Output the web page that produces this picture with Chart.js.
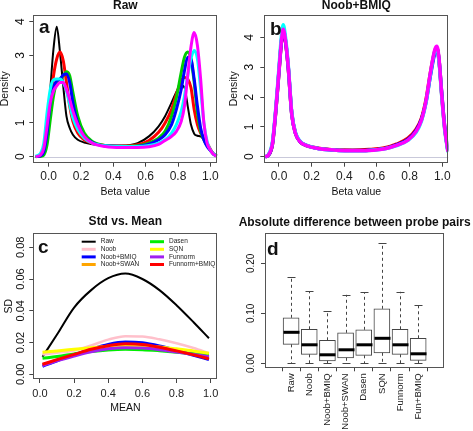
<!DOCTYPE html>
<html>
<head>
<meta charset="utf-8">
<script src="https://cdn.jsdelivr.net/npm/chart.js@4.4.1/dist/chart.umd.min.js"></script>
<style>
  html, body { margin: 0; padding: 0; background: #fff; }
  #wrap { position: relative; width: 473px; height: 431px; overflow: hidden; }
  canvas { position: absolute; }
</style>
</head>
<body>
<div id="wrap">
  <canvas id="graficoA" width="226" height="215" style="left:0;top:0"></canvas>
  <canvas id="graficoB" width="247" height="215" style="left:226px;top:0"></canvas>
  <canvas id="graficoC" width="226" height="216" style="left:0;top:215px"></canvas>
  <canvas id="graficoD" width="247" height="216" style="left:226px;top:215px"></canvas>
</div>
<script>
const FONTE = '"Liberation Sans", Arial, Helvetica, sans-serif';

// ---- painel a: Raw (densidades)
const BETA_A = [-0.08, -0.05, -0.03, -0.01, 0.01, 0.03, 0.05, 0.07, 0.09, 0.11, 0.13, 0.15, 0.18, 0.22, 0.27, 0.35, 0.45, 0.55, 0.62, 0.68, 0.72, 0.76, 0.79, 0.82, 0.84, 0.86, 0.88, 0.9, 0.92, 0.94, 0.96, 0.98, 1.0, 1.02, 1.04];
const RAW_BLACK = [0, 0.02, 0.15, 0.8, 2.0, 3.2, 3.85, 3.1, 2.1, 1.2, 0.85, 0.65, 0.5, 0.42, 0.37, 0.33, 0.33, 0.4, 0.6, 0.9, 1.2, 1.6, 1.92, 2.12, 2.05, 1.5, 0.95, 0.68, 0.62, 0.6, 0.5, 0.35, 0.2, 0.08, 0.02];
const RAW_RED = [0, 0.02, 0.12, 0.6, 1.6, 2.4, 2.9, 3.1, 2.85, 2.2, 1.5, 1.05, 0.7, 0.5, 0.4, 0.33, 0.31, 0.35, 0.48, 0.72, 1.0, 1.4, 1.85, 2.25, 2.35, 2.3, 2.05, 1.4, 0.95, 0.7, 0.55, 0.4, 0.22, 0.08, 0.02];
const RAW_GREEN = [0, 0.01, 0.05, 0.35, 1.1, 1.8, 2.2, 2.3, 2.4, 2.52, 2.4, 1.9, 1.2, 0.7, 0.45, 0.33, 0.3, 0.32, 0.4, 0.55, 0.75, 1.2, 1.75, 2.5, 2.95, 3.1, 2.9, 2.2, 1.3, 0.75, 0.5, 0.33, 0.2, 0.08, 0.02];
const RAW_BLUE = [0, 0.03, 0.15, 0.7, 1.6, 2.05, 2.25, 2.3, 2.42, 2.45, 2.2, 1.6, 1.0, 0.6, 0.42, 0.32, 0.3, 0.31, 0.37, 0.5, 0.65, 0.95, 1.4, 2.0, 2.55, 2.95, 2.9, 2.3, 1.5, 0.85, 0.5, 0.3, 0.18, 0.07, 0.02];
const RAW_CYAN = [0.01, 0.1, 0.4, 1.3, 2.0, 2.28, 2.3, 2.3, 2.2, 1.95, 1.55, 1.15, 0.8, 0.55, 0.4, 0.32, 0.3, 0.3, 0.33, 0.4, 0.5, 0.7, 0.95, 1.35, 1.8, 2.4, 2.9, 3.15, 2.9, 2.0, 1.0, 0.45, 0.2, 0.08, 0.02];
const RAW_MAGENTA = [0, 0.05, 0.25, 0.9, 1.6, 1.95, 2.1, 2.2, 2.2, 2.0, 1.7, 1.35, 0.95, 0.6, 0.4, 0.3, 0.27, 0.27, 0.29, 0.36, 0.48, 0.6, 0.75, 1.05, 1.5, 2.4, 3.25, 3.68, 3.3, 2.3, 1.0, 0.4, 0.2, 0.07, 0.02];

// ---- painel b: Noob+BMIQ
const BETA_B = [-0.085, -0.065, -0.04, -0.02, 0.0, 0.015, 0.026, 0.04, 0.057, 0.078, 0.1, 0.13, 0.17, 0.25, 0.35, 0.45, 0.55, 0.65, 0.72, 0.79, 0.84, 0.873, 0.9, 0.93, 0.955, 0.967, 0.98, 0.995, 1.015, 1.035];
const BMIQ_RED = [0, 0.05, 0.42, 1.5, 2.85, 3.85, 4.2, 3.85, 2.95, 1.45, 0.8, 0.5, 0.37, 0.28, 0.23, 0.22, 0.24, 0.3, 0.42, 0.62, 0.92, 1.3, 1.9, 2.9, 3.55, 3.65, 3.25, 2.2, 0.95, 0.18];
const BMIQ_BLUE = [0, 0.05, 0.44, 1.52, 2.88, 3.88, 4.25, 3.88, 2.98, 1.45, 0.8, 0.5, 0.37, 0.27, 0.22, 0.21, 0.22, 0.28, 0.4, 0.58, 0.88, 1.25, 1.82, 2.8, 3.5, 3.62, 3.25, 2.25, 1.0, 0.2];
const BMIQ_CYAN = [0, 0.07, 0.5, 1.6, 3.0, 4.05, 4.42, 4.0, 3.05, 1.5, 0.83, 0.52, 0.38, 0.27, 0.22, 0.2, 0.21, 0.27, 0.37, 0.55, 0.82, 1.2, 1.8, 2.85, 3.55, 3.6, 3.2, 2.15, 0.9, 0.15];
const BMIQ_MAGENTA = [0, 0.06, 0.45, 1.55, 2.9, 3.9, 4.27, 3.9, 3.0, 1.45, 0.8, 0.5, 0.37, 0.27, 0.22, 0.2, 0.21, 0.27, 0.38, 0.56, 0.85, 1.23, 1.85, 2.9, 3.6, 3.7, 3.3, 2.2, 0.95, 0.17];

const X_TICKS_AB = [0, 0.2, 0.4, 0.6, 0.8, 1.0];
const Y_TICKS_AB = [0, 1, 2, 3, 4];

// ---- painel c: Std vs. Mean
const MEAN_C = [0.015, 0.1, 0.2, 0.3, 0.4, 0.5, 0.6, 0.7, 0.8, 0.9, 0.99];
const SD_RAW = [0.011, 0.025, 0.042, 0.053, 0.0605, 0.0634, 0.060, 0.053, 0.0435, 0.0328, 0.0227];
const SD_NOOB = [0.0125, 0.0135, 0.015, 0.0182, 0.0218, 0.0240, 0.0238, 0.0220, 0.0195, 0.0165, 0.0132];
const SD_NOOB_BMIQ = [0.0050, 0.0085, 0.0122, 0.0158, 0.0188, 0.0203, 0.0198, 0.0178, 0.0150, 0.0120, 0.0092];
const SD_NOOB_SWAN = [0.0060, 0.0090, 0.0122, 0.0150, 0.0172, 0.0182, 0.0178, 0.0165, 0.0145, 0.0125, 0.0105];
const SD_DASEN = [0.0101, 0.0112, 0.0128, 0.0143, 0.0153, 0.0157, 0.0155, 0.0148, 0.0139, 0.0130, 0.0122];
const SD_SQN = [0.0139, 0.0147, 0.0157, 0.0167, 0.0177, 0.0182, 0.0180, 0.0172, 0.0160, 0.0147, 0.0132];
const SD_FUNNORM = [0.0055, 0.0085, 0.0115, 0.0142, 0.0160, 0.0167, 0.0165, 0.0155, 0.0140, 0.0125, 0.0110];
const SD_FUNNORM_BMIQ = [0.0063, 0.0092, 0.0125, 0.0157, 0.0180, 0.0192, 0.0188, 0.0170, 0.0147, 0.0122, 0.0097];
const X_TICKS_C = [0, 0.2, 0.4, 0.6, 0.8, 1.0];
const Y_TICKS_C = [0, 0.02, 0.04, 0.06, 0.08];

// ---- painel d: Absolute difference between probe pairs
const BOX_LABELS = ['Raw', 'Noob', 'Noob+BMIQ', 'Noob+SWAN', 'Dasen', 'SQN', 'Funnorm', 'Fun+BMIQ'];
const BOX_MIN = [0, 0, 0, 0, 0, 0, 0, 0];
const BOX_Q1 = [0.038, 0.018, 0.005, 0.011, 0.016, 0.021, 0.018, 0.006];
const BOX_MEDIAN = [0.062, 0.037, 0.017, 0.027, 0.037, 0.050, 0.037, 0.019];
const BOX_Q3 = [0.091, 0.068, 0.046, 0.061, 0.067, 0.109, 0.068, 0.050];
const BOX_MAX = [0.173, 0.144, 0.105, 0.137, 0.142, 0.240, 0.143, 0.116];
const Y_TICKS_D = [0, 0.10, 0.20];


function pontos(xs, ys) {
    return xs.map((x, i) => ({ x: x, y: ys[i] }));
}

// ordem negativa: a ultima serie fica por cima, como no R
function linha(label, xs, ys, cor, largura, ordem) {
    return {
        label: label,
        data: pontos(xs, ys),
        borderColor: cor,
        backgroundColor: cor,
        borderWidth: largura,
        pointRadius: 0,
        cubicInterpolationMode: 'monotone',
        fill: false,
        order: -ordem
    };
}

// caixa, titulos, letras e rotulos do eixo y no estilo do R
const painelR = {
    id: 'painelR',
    beforeDatasetsDraw(chart, args, o) {
        if (!o.linhaZero) return;
        const ctx = chart.ctx;
        const a = chart.chartArea;
        const y = Math.round(chart.scales.y.getPixelForValue(0)) + 0.5;
        ctx.save();
        ctx.strokeStyle = '#c9c9da';
        ctx.lineWidth = 1;
        ctx.beginPath();
        ctx.moveTo(a.left, y);
        ctx.lineTo(a.right, y);
        ctx.stroke();
        ctx.restore();
    },
    afterDraw(chart, args, o) {
        const ctx = chart.ctx;
        const a = chart.chartArea;
        const ys = chart.scales.y;
        ctx.save();
        ctx.strokeStyle = '#555';
        ctx.lineWidth = 1;
        ctx.strokeRect(Math.round(a.left) + 0.5, Math.round(a.top) + 0.5,
            Math.round(a.right - a.left) - 1, Math.round(a.bottom - a.top) - 1);

        ctx.fillStyle = '#111';
        ctx.textAlign = 'center';
        ctx.textBaseline = 'middle';

        ctx.font = 'bold 12px ' + FONTE;
        ctx.fillText(o.titulo, (a.left + a.right) / 2, o.tituloY);

        ctx.font = o.tamY + 'px ' + FONTE;
        ys.ticks.forEach(t => {
            ctx.save();
            ctx.translate(o.rotuloYX, ys.getPixelForValue(t.value));
            ctx.rotate(-Math.PI / 2);
            ctx.fillText(t.value.toFixed(o.casasY), 0, 0);
            ctx.restore();
        });

        ctx.font = '10.5px ' + FONTE;
        if (o.tituloEixoY) {
            ctx.save();
            ctx.translate(o.tituloEixoYX, (a.top + a.bottom) / 2);
            ctx.rotate(-Math.PI / 2);
            ctx.fillText(o.tituloEixoY, 0, 0);
            ctx.restore();
        }
        if (o.tituloEixoX) {
            ctx.fillText(o.tituloEixoX, (a.left + a.right) / 2, o.tituloEixoXY);
        }

        ctx.font = 'bold 19px ' + FONTE;
        ctx.textAlign = 'left';
        ctx.textBaseline = 'alphabetic';
        ctx.fillText(o.letra, o.letraX, o.letraY);
        ctx.restore();
    }
};

// legenda em duas colunas dentro do painel c
const legendaC = {
    id: 'legendaC',
    afterDraw(chart, args, o) {
        const ctx = chart.ctx;
        ctx.save();
        ctx.font = '6.5px ' + FONTE;
        ctx.textBaseline = 'middle';
        ctx.textAlign = 'left';
        chart.data.datasets.forEach((ds, i) => {
            const col = Math.floor(i / 4);
            const lin = i % 4;
            const x = o.colunas[col];
            const y = o.topo + lin * o.passo;
            ctx.strokeStyle = ds.borderColor;
            ctx.lineWidth = i === 0 ? 2 : 3;
            ctx.beginPath();
            ctx.moveTo(x, y);
            ctx.lineTo(x + 14, y);
            ctx.stroke();
            ctx.fillStyle = '#222';
            ctx.fillText(ds.label, x + 19, y);
        });
        ctx.restore();
    }
};

// bigodes tracejados e mediana do boxplot
const bigodesD = {
    id: 'bigodesD',
    afterDatasetsDraw(chart) {
        const ctx = chart.ctx;
        const xs = chart.scales.x;
        const ys = chart.scales.y;
        ctx.save();
        BOX_LABELS.forEach((nome, i) => {
            const x = Math.round(xs.getPixelForValue(i + 1)) + 0.5;
            const yMin = ys.getPixelForValue(BOX_MIN[i]);
            const yQ1 = ys.getPixelForValue(BOX_Q1[i]);
            const yQ3 = ys.getPixelForValue(BOX_Q3[i]);
            const yMax = ys.getPixelForValue(BOX_MAX[i]);
            const yMed = ys.getPixelForValue(BOX_MEDIAN[i]);

            ctx.strokeStyle = '#444';
            ctx.lineWidth = 1;
            ctx.setLineDash([3, 3]);
            ctx.beginPath();
            ctx.moveTo(x, yQ3);
            ctx.lineTo(x, yMax);
            ctx.moveTo(x, yQ1);
            ctx.lineTo(x, yMin);
            ctx.stroke();

            ctx.setLineDash([]);
            ctx.beginPath();
            ctx.moveTo(x - 4, Math.round(yMax) + 0.5);
            ctx.lineTo(x + 4, Math.round(yMax) + 0.5);
            ctx.moveTo(x - 4, Math.round(yMin) + 0.5);
            ctx.lineTo(x + 4, Math.round(yMin) + 0.5);
            ctx.stroke();

            ctx.strokeStyle = '#000';
            ctx.lineWidth = 3;
            ctx.beginPath();
            ctx.moveTo(x - 8, yMed);
            ctx.lineTo(x + 8, yMed);
            ctx.stroke();
        });
        ctx.restore();
    }
};

function escalas(cfg) {
    return {
        x: {
            type: 'linear',
            min: cfg.xMin,
            max: cfg.xMax,
            afterBuildTicks: s => { s.ticks = cfg.xTicks.map(v => ({ value: v })); },
            afterFit: s => { s.height = cfg.alturaX; },
            ticks: {
                callback: cfg.rotuloX,
                font: { family: FONTE, size: cfg.tamX },
                color: '#222',
                padding: cfg.padX,
                autoSkip: false,
                minRotation: cfg.rotacao || 0,
                maxRotation: cfg.rotacao || 0
            },
            grid: { drawOnChartArea: false, tickLength: cfg.tickX || 4, color: '#444' },
            border: { display: false }
        },
        y: {
            type: 'linear',
            min: cfg.yMin,
            max: cfg.yMax,
            afterBuildTicks: s => { s.ticks = cfg.yTicks.map(v => ({ value: v })); },
            afterFit: s => { s.width = cfg.larguraY; },
            ticks: { display: false },
            grid: { drawOnChartArea: false, tickLength: 4, color: '#444' },
            border: { display: false }
        }
    };
}

function desenharPainelA() {
    new Chart(document.getElementById('graficoA'), {
        type: 'line',
        data: {
            datasets: [
                linha('1', BETA_A, RAW_BLACK, '#000000', 2, 0),
                linha('2', BETA_A, RAW_RED, '#ff0000', 3, 1),
                linha('3', BETA_A, RAW_GREEN, '#00cd00', 3, 2),
                linha('4', BETA_A, RAW_BLUE, '#0000ff', 3, 3),
                linha('5', BETA_A, RAW_CYAN, '#00ffff', 3, 4),
                linha('6', BETA_A, RAW_MAGENTA, '#ff00ff', 3, 5)
            ]
        },
        options: {
            responsive: false,
            animation: false,
            layout: { padding: { left: 0, right: 8.7, top: 15, bottom: 0 } },
            plugins: {
                legend: { display: false },
                tooltip: { enabled: false },
                painelR: {
                    titulo: 'Raw', tituloY: 6, letra: 'a', letraX: 39, letraY: 33,
                    tamY: 12, casasY: 0, rotuloYX: 20.7, linhaZero: true,
                    tituloEixoY: 'Density', tituloEixoYX: 5.5,
                    tituloEixoX: 'Beta value', tituloEixoXY: 192
                }
            },
            scales: escalas({
                xMin: -0.095, xMax: 1.043, xTicks: X_TICKS_AB, alturaX: 52.3,
                rotuloX: v => v.toFixed(1), tamX: 12, padX: 3,
                yMin: -0.18, yMax: 4.2, yTicks: Y_TICKS_AB, larguraY: 33.3
            })
        },
        plugins: [painelR]
    });
}

function desenharPainelB() {
    new Chart(document.getElementById('graficoB'), {
        type: 'line',
        data: {
            datasets: [
                linha('2', BETA_B, BMIQ_RED, '#ff0000', 3.5, 0),
                linha('4', BETA_B, BMIQ_BLUE, '#0000ff', 3.5, 1),
                linha('5', BETA_B, BMIQ_CYAN, '#00ffff', 3.5, 2),
                linha('6', BETA_B, BMIQ_MAGENTA, '#ff00ff', 3.5, 3)
            ]
        },
        options: {
            responsive: false,
            animation: false,
            layout: { padding: { left: 0, right: 24.7, top: 15, bottom: 0 } },
            plugins: {
                legend: { display: false },
                tooltip: { enabled: false },
                painelR: {
                    titulo: 'Noob+BMIQ', tituloY: 6, letra: 'b', letraX: 44, letraY: 35,
                    tamY: 12, casasY: 0, rotuloYX: 24, linhaZero: true,
                    tituloEixoY: 'Density', tituloEixoYX: 8.5,
                    tituloEixoX: 'Beta value', tituloEixoXY: 192
                }
            },
            scales: escalas({
                xMin: -0.09, xMax: 1.037, xTicks: X_TICKS_AB, alturaX: 52.3,
                rotuloX: v => v.toFixed(1), tamX: 12, padX: 3,
                yMin: -0.2, yMax: 4.75, yTicks: Y_TICKS_AB, larguraY: 38.3
            })
        },
        plugins: [painelR]
    });
}

function desenharPainelC() {
    new Chart(document.getElementById('graficoC'), {
        type: 'line',
        data: {
            datasets: [
                linha('Raw', MEAN_C, SD_RAW, '#000000', 2, 0),
                linha('Noob', MEAN_C, SD_NOOB, '#ffc0cb', 2.5, 1),
                linha('Noob+BMIQ', MEAN_C, SD_NOOB_BMIQ, '#0000ff', 3, 2),
                linha('Noob+SWAN', MEAN_C, SD_NOOB_SWAN, '#ffa500', 3, 3),
                linha('Dasen', MEAN_C, SD_DASEN, '#00ee00', 3, 4),
                linha('SQN', MEAN_C, SD_SQN, '#ffff00', 3, 5),
                linha('Funnorm', MEAN_C, SD_FUNNORM, '#a020f0', 3, 6),
                linha('Funnorm+BMIQ', MEAN_C, SD_FUNNORM_BMIQ, '#ff0000', 3, 7)
            ]
        },
        options: {
            responsive: false,
            animation: false,
            layout: { padding: { left: 0, right: 8.7, top: 18.3, bottom: 0 } },
            plugins: {
                legend: { display: false },
                tooltip: { enabled: false },
                painelR: {
                    titulo: 'Std vs. Mean', tituloY: 7, letra: 'c', letraX: 38, letraY: 38.3,
                    tamY: 11, casasY: 2, rotuloYX: 20.7,
                    tituloEixoY: 'SD', tituloEixoYX: 9,
                    tituloEixoX: 'MEAN', tituloEixoXY: 193
                },
                legendaC: { colunas: [81.7, 150], topo: 26.7, passo: 7.6 }
            },
            scales: escalas({
                xMin: -0.039, xMax: 1.039, xTicks: X_TICKS_C, alturaX: 52,
                rotuloX: v => v.toFixed(1), tamX: 11, padX: 4,
                yMin: -0.003, yMax: 0.0888, yTicks: Y_TICKS_C, larguraY: 33.3
            })
        },
        plugins: [painelR, legendaC]
    });
}

function desenharPainelD() {
    new Chart(document.getElementById('graficoD'), {
        type: 'bar',
        data: {
            datasets: [{
                label: 'caixas',
                data: BOX_LABELS.map((nome, i) => ({ x: i + 1, y: [BOX_Q1[i], BOX_Q3[i]] })),
                backgroundColor: '#ffffff',
                borderColor: '#444',
                borderWidth: 1,
                borderSkipped: false,
                barThickness: 16
            }]
        },
        options: {
            responsive: false,
            animation: false,
            layout: { padding: { left: 0, right: 28.7, top: 18.3, bottom: 0 } },
            plugins: {
                legend: { display: false },
                tooltip: { enabled: false },
                painelR: {
                    titulo: 'Absolute difference between probe pairs', tituloY: 8,
                    letra: 'd', letraX: 41, letraY: 40,
                    tamY: 10, casasY: 2, rotuloYX: 25.7
                }
            },
            scales: escalas({
                xMin: 0.18, xMax: 8.82, xTicks: BOX_LABELS.map((n, i) => i + 1), alturaX: 62.7,
                rotuloX: v => BOX_LABELS[v - 1], tamX: 9.5, padX: 2, rotacao: 90, tickX: 3,
                yMin: -0.01, yMax: 0.26, yTicks: Y_TICKS_D, larguraY: 39
            })
        },
        plugins: [painelR, bigodesD]
    });
}

desenharPainelA();
desenharPainelB();
desenharPainelC();
desenharPainelD();
</script>
</body>
</html>
